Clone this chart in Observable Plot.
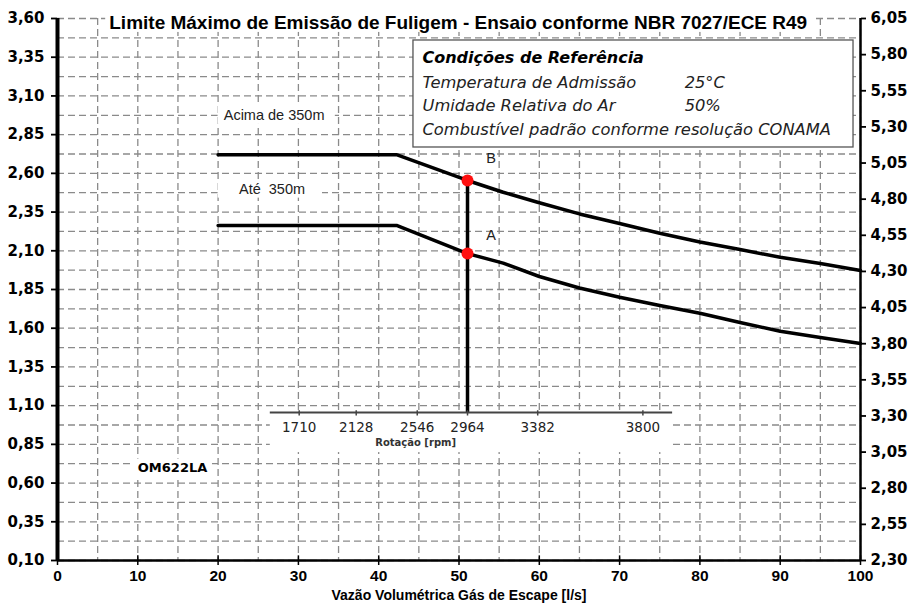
<!DOCTYPE html>
<html>
<head>
<meta charset="utf-8">
<script src="https://cdn.jsdelivr.net/npm/d3@7"></script>
<script src="https://cdn.jsdelivr.net/npm/@observablehq/plot@0.6"></script>
<style>
  html, body { margin: 0; padding: 0; background: #fff; }
  #chart { width: 908px; height: 605px; }
</style>
</head>
<body>
<div id="chart"></div>
<script>
// ---- Data ----
const flowX  = [20, 42.3, 51.06, 55.5, 60, 65, 70, 75, 80, 85, 90, 95, 100];
const upperY = [2.72, 2.72, 2.554, 2.478, 2.41, 2.338, 2.276, 2.213, 2.157, 2.108, 2.058, 2.018, 1.973];
const lowerY = [2.263, 2.263, 2.082, 2.02, 1.934, 1.86, 1.8, 1.747, 1.697, 1.637, 1.58, 1.54, 1.501];

const opFlow = 51.06;   // operating point flow
const opB = 2.554;      // point B (upper curve)
const opA = 2.082;      // point A (lower curve)

const rpmLabels = [1710, 2128, 2546, 2964, 3382, 3800];
const rpmAtFlow = [30.1, 37.2, 44.8, 51.06, 59.8, 72.9];
const rpmAxisLevel = 1.055;

const leftTicks  = [0.10, 0.35, 0.60, 0.85, 1.10, 1.35, 1.60, 1.85, 2.10, 2.35, 2.60, 2.85, 3.10, 3.35, 3.60];
const rightTicks = [2.30, 2.55, 2.80, 3.05, 3.30, 3.55, 3.80, 4.05, 4.30, 4.55, 4.80, 5.05, 5.30, 5.55, 5.80, 6.05];
const xTicks = [0, 10, 20, 30, 40, 50, 60, 70, 80, 90, 100];

const titleText = "Limite Máximo de Emissão de Fuligem - Ensaio conforme NBR 7027/ECE R49";
const xLabel = "Vazão Volumétrica Gás de Escape [l/s]";
const legendTitle = "Condições de Referência";
const legendRows = ["Temperatura de Admissão", "Umidade Relativa do Ar", "Combustível padrão conforme resolução CONAMA"];
const legendValues = ["25°C", "50%", ""];

// ---- helpers ----
const yMin = 0.10, yMax = 3.60, rMin = 2.30, rMax = 6.05;
const toLeft = v => yMin + (v - rMin) * (yMax - yMin) / (rMax - rMin);
const toRight = v => rMin + (v - yMin) * (rMax - rMin) / (yMax - yMin);
const fmt = d => d.toFixed(2).replace(".", ",");
const gridY = d3.range(0, 29).map(i => yMin + i * 0.125);
const gridX = d3.range(0, 101, 5);

const numFont = "'DejaVu Sans', sans-serif";
const arial = "'Liberation Sans', Arial, sans-serif";
const verdana = "'DejaVu Sans', Verdana, sans-serif";

const legendRowY = [3.187, 3.038, 2.883];

const chart = Plot.plot({
  width: 908,
  height: 605,
  marginLeft: 57,
  marginRight: 48,
  marginTop: 18,
  marginBottom: 45,
  x: { domain: [0, 100] },
  y: { domain: [yMin, yMax] },
  style: { background: "#fff", color: "#000", overflow: "visible" },
  marks: [
    // dashed grid
    Plot.ruleY(gridY, { stroke: "#8a8a8a", strokeWidth: 1.3, strokeDasharray: "7,4", strokeOpacity: 1 }),
    Plot.ruleX(gridX, { stroke: "#8a8a8a", strokeWidth: 1.3, strokeDasharray: "7,4", strokeOpacity: 1 }),

    // white backgrounds of text boxes
    Plot.rect([0], { x1: 6.0, x2: 94.4, y1: 3.51, y2: 3.665, fill: "#fff" }),
    Plot.rect([0], { x1: 20.0, x2: 34.6, y1: 2.916, y2: 3.032, fill: "#fff" }),
    Plot.rect([0], { x1: 20.0, x2: 33.0, y1: 2.44, y2: 2.545, fill: "#fff" }),
    Plot.rect([0], { x1: 9.5, x2: 19.3, y1: 0.64, y2: 0.755, fill: "#fff" }),
    Plot.rect([0], { x1: 26.5, x2: 76.6, y1: 0.797, y2: rpmAxisLevel, fill: "#fff" }),

    // legend box
    Plot.rect([0], { x1: 44.33, x2: 99.13, y1: 2.767, y2: 3.458, fill: "#fff", stroke: "#555", strokeWidth: 1.3 }),

    // curves
    Plot.line(flowX, { x: flowX, y: upperY, stroke: "#000", strokeWidth: 3.5, strokeLinejoin: "round" }),
    Plot.line(flowX, { x: flowX, y: lowerY, stroke: "#000", strokeWidth: 3.5, strokeLinejoin: "round" }),

    // vertical operating line
    Plot.ruleX([opFlow], { y1: rpmAxisLevel, y2: opB, stroke: "#000", strokeWidth: 3.5 }),

    // rpm secondary axis
    Plot.ruleY([rpmAxisLevel], { x1: 26.5, x2: 76.6, stroke: "#444", strokeWidth: 2 }),
    Plot.ruleX(rpmAtFlow, { y1: rpmAxisLevel - 0.022, y2: rpmAxisLevel + 0.012, stroke: "#444", strokeWidth: 1.5 }),
    Plot.text(rpmLabels, { x: rpmAtFlow, y: 0.957, text: d => String(d), fontSize: 13.5, fontFamily: verdana, fill: "#222" }),
    Plot.text(["Rotação [rpm]"], { x: 44.6, y: 0.862, text: d => d, fontSize: 10, fontWeight: "bold", fontFamily: verdana, fill: "#333" }),

    // points A and B
    Plot.dot([opB, opA], { x: opFlow, y: d => d, r: 6, fill: "#ff1010", stroke: "none" }),

    // annotations
    Plot.text([titleText], { x: 49.9, y: 3.574, text: d => d, fontSize: 19, fontWeight: "bold", fontFamily: arial }),
    Plot.text(["Acima de 350m"], { x: 20.7, y: 2.974, text: d => d, textAnchor: "start", fontSize: 14.5, fontFamily: arial, fill: "#222" }),
    Plot.text(["Até  350m"], { x: 22.6, y: 2.495, text: d => d, textAnchor: "start", fontSize: 14.5, fontFamily: arial, fill: "#222", style: "white-space: pre" }),
    Plot.text(["B"], { x: 54.0, y: 2.70, text: d => d, fontSize: 14.5, fontFamily: arial, fill: "#222" }),
    Plot.text(["A"], { x: 54.0, y: 2.20, text: d => d, fontSize: 14.5, fontFamily: arial, fill: "#222" }),
    Plot.text(["OM622LA"], { x: 10.0, y: 0.70, text: d => d, textAnchor: "start", fontSize: 13, fontWeight: "bold", fontFamily: verdana }),

    // legend text
    Plot.text([legendTitle], { x: 45.45, y: 3.348, text: d => d, textAnchor: "start", fontSize: 16, fontWeight: "bold", fontStyle: "italic", fontFamily: verdana }),
    Plot.text(legendRows, { x: 45.45, y: legendRowY, text: d => d, textAnchor: "start", fontSize: 16.3, fontStyle: "italic", fontFamily: verdana, fill: "#222" }),
    Plot.text(legendValues, { x: 78.1, y: legendRowY, text: d => d, textAnchor: "start", fontSize: 16.3, fontStyle: "italic", fontFamily: verdana, fill: "#222" }),

    // axis lines
    Plot.ruleX([0], { y1: yMin, y2: yMax, stroke: "#000", strokeWidth: 4 }),
    Plot.ruleX([100], { y1: yMin, y2: yMax, stroke: "#000", strokeWidth: 2.5 }),
    Plot.ruleY([yMin], { x1: 0, x2: 100, stroke: "#000", strokeWidth: 2.5 }),
    Plot.ruleX(xTicks, { y1: yMin, y2: yMin + 0.03, stroke: "#000", strokeWidth: 1.5 }),

    // axes
    Plot.axisY(leftTicks, { anchor: "left", tickFormat: fmt, tickSize: 6, tickPadding: 7, strokeWidth: 1.8, fontSize: 15, fontWeight: "bold", fontFamily: numFont, label: null }),
    Plot.axisY(rightTicks.map(toLeft), { anchor: "right", tickFormat: d => fmt(toRight(d)), tickSize: 5, tickPadding: 5, strokeWidth: 1.8, fontSize: 15, fontWeight: "bold", fontFamily: numFont, label: null }),
    Plot.axisX(xTicks, { anchor: "bottom", tickFormat: d => String(d), tickSize: 5, tickPadding: 4, strokeWidth: 1.5, fontSize: 15.5, fontWeight: "bold", fontFamily: arial, label: null }),
    Plot.text([xLabel], { x: 50, y: yMin, dy: 35, text: d => d, fontSize: 14, fontWeight: "bold", fontFamily: arial })
  ]
});
document.getElementById("chart").appendChild(chart);
</script>
</body>
</html>
